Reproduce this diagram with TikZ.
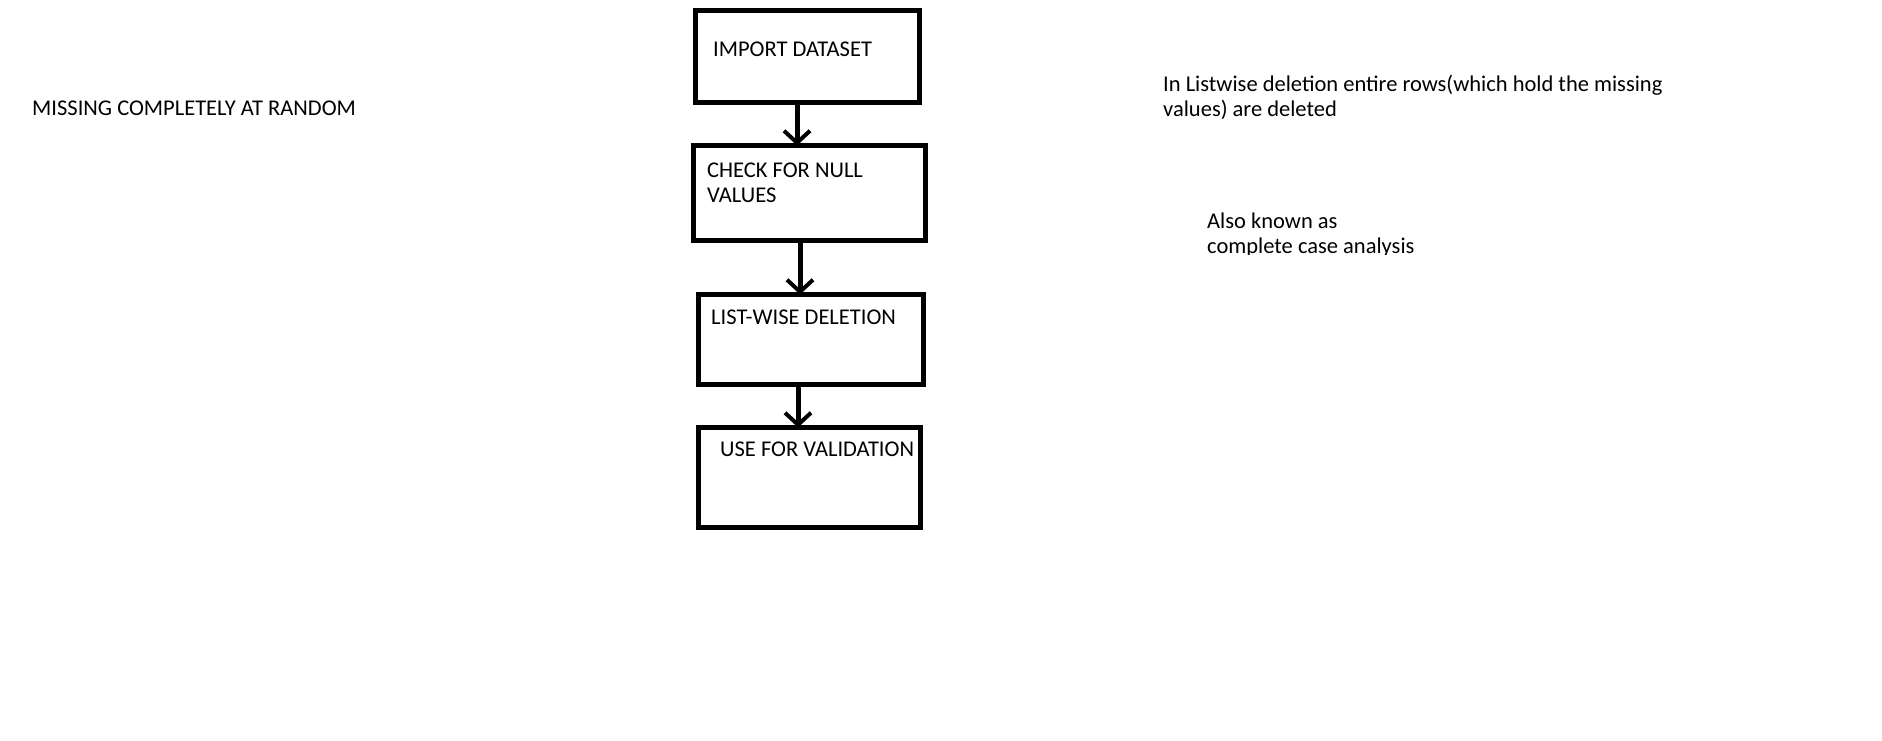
\documentclass[tikz,border=0pt]{standalone}
\usepackage{fontspec}
\setmainfont{Carlito}
\usepackage{tikz}
\usetikzlibrary{arrows.meta, positioning}
\tikzset{
  stepbox/.style={
      rectangle,
      draw,
      line width=5pt,
      inner sep=0pt,
      outer sep=0pt,
    },
  boxtext/.style={
      anchor=base west,
      inner sep=0pt,
      align=left,
      font=\fontsize{22.5}{25}\selectfont,
    },
  note/.style={
      anchor=base west,
      inner sep=0pt,
      align=left,
      font=\fontsize{22.5}{25}\selectfont,
    },
  flow/.style={
      line width=5pt,
      -{Straight Barb[length=12pt, width=26pt, line width=4pt]},
    },
}

\begin{document}
\begin{tikzpicture}[x=1pt, y=-1pt]
      \useasboundingbox (0,0) rectangle (1882,741);
      \node[stepbox, minimum width=224pt, minimum height=92pt] (import) at (807,57) {};
      \node[stepbox, minimum width=232pt, minimum height=94.5pt, below=42.5pt of import, xshift=2pt] (check) {};
      \node[stepbox, minimum width=225pt, minimum height=89.5pt, below=54.5pt of check, xshift=1.5pt] (delete) {};
      \node[stepbox, minimum width=222pt, minimum height=99.5pt, below=43.5pt of delete, xshift=-1pt] (valid) {};
      % texts sit near the top left corner of each box
      \node[boxtext] (import-text) at ([shift={(18,46)}]import.north west) {IMPORT DATASET};
      \node[boxtext] (check-text) at ([shift={(14,56.5)}]check.north west) {CHECK FOR NULL\\VALUES};
      \node[boxtext] (delete-text) at ([shift={(13,29.5)}]delete.north west) {LIST-WISE DELETION};
      \node[boxtext] (valid-text) at ([shift={(21.5,28.5)}]valid.north west) {USE FOR VALIDATION};
      \draw[flow] ([xshift=-10pt]import.south) coordinate (a1) -- (a1 |- check.north);
      \draw[flow] ([xshift=-9pt]check.south) coordinate (a2) -- (a2 |- delete.north);
      \draw[flow] ([xshift=-12.5pt]delete.south) coordinate (a3) -- (a3 |- valid.north);
      \node[note] (mcar) at (32,116) {MISSING COMPLETELY AT RANDOM};
      \node[note] (listwise) at (1163,117) {In Listwise deletion entire rows(which hold the missing\\values) are deleted};
      \begin{scope}
        \clip (1150,150) rectangle (1500,254.5);
        \node[note] (aka) at (1207,253) {Also known as\\complete case analysis};
      \end{scope}
    \end{tikzpicture}
\end{document}
